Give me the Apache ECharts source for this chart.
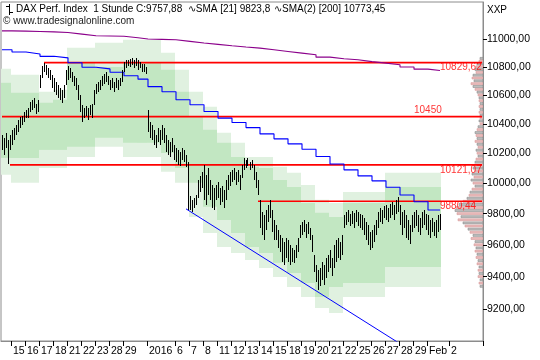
<!DOCTYPE html>
<html><head><meta charset="utf-8">
<script src="https://cdn.jsdelivr.net/npm/echarts@6/dist/echarts.min.js"></script>
<style>html,body{margin:0;padding:0;background:#fff}#c{width:540px;height:360px}</style>
</head><body><div id="c"></div>
<script>
// ---------- data ----------
const NCAT = 241;                 // hourly slots on the axis
const YMIN = 9008, YMAX = 11273;  // visible price range (log scale)
const yTicks = [9200, 9400, 9600, 9800, 10000, 10200, 10400, 10600, 10800, 11000];

const dayLabelIdx  = [5, 12, 19, 26, 33, 40, 47, 54, 61, 73, 87, 94, 101, 108, 115, 122, 129, 136, 143, 150, 157, 164, 171, 178, 185, 192, 199, 206, 213, 224];
const dayLabelText = ['15','16','17','18','21','22','23','28','29','2016','6','7','8','11','12','13','14','15','18','19','20','21','22','25','26','27','28','29','Feb','2'];

// first slot of each trading day (Dec 14 ... Feb 1), data end
const dayStart = [0, 5, 12, 19, 26, 33, 40, 47, 54, 61, 68, 73, 80, 87, 94, 101, 108, 115, 122, 129, 136, 143, 150, 157, 164, 171, 178, 185, 192, 199, 206, 213];
const dataEnd = 220;

const highs = [10325,10304,10338,10290,10325,10359,10373,10393,10428,10448,
10455,10483,10497,10511,10553,10567,10581,10539,10567,10743,
10806,10829,10814,10792,10779,10743,10722,10694,10673,10651,
10637,10673,10779,10806,10792,10765,10736,10722,10673,10602,
10532,10511,10525,10511,10532,10539,10637,10680,10694,10708,
10736,10751,10765,10736,10708,10722,10694,10722,10708,10722,
10779,10836,10850,10850,10857,10864,10850,10864,10850,10836,
10822,10822,10799,10497,10414,10393,10359,10325,10373,10359,
10393,10373,10325,10290,10277,10304,10256,10236,10222,10209,
10236,10222,10189,10142,9916,9890,9903,9922,10021,10048,
10075,10121,10055,10101,10021,9988,9968,9988,10008,9968,
9982,9955,10021,10055,10075,10088,10101,10075,10088,10055,
10121,10168,10155,10168,10142,10155,10121,10075,10021,9890,
9811,9792,9824,9857,9890,9824,9759,9727,9695,9663,
9643,9618,9643,9631,9599,9580,9567,9599,9643,9727,
9746,9759,9733,9746,9708,9663,9535,9472,9442,9454,
9491,9472,9516,9535,9567,9516,9599,9631,9643,9618,
9663,9792,9811,9824,9798,9818,9805,9824,9811,9798,
9792,9772,9746,9727,9682,9695,9727,9759,9811,9837,
9824,9851,9857,9837,9864,9877,9857,9890,9909,9857,
9811,9824,9792,9759,9727,9792,9811,9824,9792,9772,
9811,9824,9798,9792,9759,9772,9746,9759,9792,9798];

const lows = [10222,10189,10236,10128,10222,10256,10290,10325,10345,10373,
10393,10414,10441,10441,10483,10497,10511,10469,10483,10651,
10722,10765,10743,10722,10708,10651,10623,10602,10581,10567,
10546,10581,10673,10708,10722,10694,10666,10637,10567,10483,
10414,10441,10455,10428,10462,10441,10532,10609,10623,10637,
10666,10680,10694,10673,10637,10651,10623,10651,10637,10666,
10694,10765,10792,10806,10799,10814,10792,10806,10779,10792,
10765,10765,10751,10345,10304,10290,10256,10236,10277,10256,
10290,10270,10209,10189,10175,10209,10155,10142,10121,10115,
10155,10142,10108,9824,9824,9811,9837,9857,9903,9942,
9968,9890,9857,9922,9890,9837,9824,9890,9903,9857,
9877,9837,9890,9955,9982,10008,10021,9988,10008,9955,
10035,10088,10101,10115,10088,10101,10021,9968,9922,9708,
9663,9631,9695,9746,9772,9682,9631,9631,9580,9554,
9491,9472,9516,9491,9472,9491,9485,9516,9554,9643,
9663,9682,9643,9669,9631,9554,9429,9367,9317,9342,
9379,9348,9392,9429,9454,9404,9454,9491,9516,9504,
9535,9708,9727,9746,9720,9733,9708,9746,9720,9708,
9695,9663,9631,9599,9567,9580,9618,9663,9708,9746,
9733,9772,9759,9746,9772,9792,9759,9798,9811,9727,
9663,9708,9643,9631,9605,9682,9708,9720,9682,9663,
9708,9727,9695,9663,9643,9682,9656,9643,9682,9695];

// daily volatility bands
const outerTop = [10786,10743,10743,10623,10637,10937,10937,10973,10973,10995,10995,10995,10901,10779,10623,10518,10338,10270,10175,10175,10108,10068,9988,9890,9870,9942,9942,9942,10068,10068,10068,10068];
const innerTop = [10686,10616,10616,10546,10567,10829,10829,10799,10799,10829,10829,10829,10779,10623,10448,10359,10270,10175,10108,10101,10021,9975,9870,9805,9779,9870,9870,9870,9975,9975,9975,9975];
const innerBot = [10168,10168,10168,10222,10222,10243,10243,10304,10304,10270,10270,10270,10202,10101,10002,9844,9759,9676,9586,9548,9486,9422,9360,9274,9336,9360,9360,9360,9460,9460,9460,9460];
const outerBot = [10055,10002,10002,10101,10101,10175,10175,10243,10243,10175,10175,10175,10075,10002,9779,9676,9586,9548,9504,9454,9398,9336,9274,9207,9176,9274,9274,9274,9336,9336,9336,9336];

// daily SMAs
const sma21  = [10922,10906,10892,10875,10864,10829,10797,10785,10761,10736,10712,10659,10623,10567,10532,10485,10439,10409,10374,10331,10297,10263,10227,10178,10127,10088,10048,10015,9973,9922,9877,9824];
const sma200 = [11060,11058,11055,11052,11048,11036,11024,11022,11020,11010,11000,10998,10995,10983,10971,10961,10951,10942,10934,10922,10910,10898,10886,10869,10858,10850,10837,10826,10814,10798,10783,10773];

// horizontal levels
const levelValue = [10829.62, 10450, 10121.07, 9880.44];
const levelText  = ['10829,62', '10450', '10121,07', '9880,44'];
const levelStart = [21, 0, 4, 128];
const levelLabelIdx = [219, 206, 219, 219];
const levelLabelDy  = [5, -6, 5, 5];

// falling trend line (two anchor points)
const trendIdx = [92, 199];
const trendVal = [9831, 8992];

// volume profile (20-pt bins)
const profPrice = [10860,10840,10820,10800,10780,10760,10740,10720,10700,10680,10660,10640,10620,10600,10580,10560,10540,10520,10500,10480,10460,10440,10420,10400,10380,10360,10340,10320,10300,10280,10260,10240,10220,10200,10180,10160,10140,10120,10100,10080,10060,10040,10020,10000,9980,9960,9940,9920,9900,9880,9860,9840,9820,9800,9780,9760,9740,9720,9700,9680,9660,9640,9620,9600,9580,9560,9540,9520,9500,9480,9460,9440,9420,9400,9380,9360,9340];
const profVol   = [3,4,6,7,8,7,10,11,9,12,10,8,6,5,4,4,3,4,3,4,3,3,4,3,5,6,8,7,6,8,6,5,7,6,5,7,8,9,10,8,11,9,12,10,8,11,13,14,16,20,24,27,28,26,22,25,20,18,15,13,10,12,8,9,7,8,6,7,5,6,4,5,4,5,3,4,3];

// ---------- build ----------
const L = v => Math.log(v);
const categories = new Array(NCAT).fill('');
dayLabelIdx.forEach((k, j) => { categories[k] = dayLabelText[j]; });
const dayEnd = dayStart.map((s, i) => i + 1 < dayStart.length ? dayStart[i + 1] : dataEnd);

const fmtPrice = v => Math.round(Math.exp(v)).toFixed(2).replace('.', ',');
const FONT = 'Liberation Sans';

const stepData = arr => {
  const d = dayStart.map((s, i) => [s, L(arr[i])]);
  d.push([dataEnd - 1, L(arr[arr.length - 1])]);
  return d;
};

const series = [];

// bands
series.push({
  type: 'custom', z: 1, clip: true, silent: true,
  encode: { x: [0, 1], y: [2, 3, 4, 5] },
  data: dayStart.map((s, i) => [s, dayEnd[i], L(outerTop[i]), L(innerTop[i]), L(innerBot[i]), L(outerBot[i])]),
  renderItem: (params, api) => {
    const w = api.size([1, 0])[0];
    const x0 = api.coord([api.value(0), api.value(2)])[0] - w / 2;
    const x1 = api.coord([api.value(1), api.value(2)])[0] - w / 2;
    const yOT = api.coord([api.value(0), api.value(2)])[1];
    const yIT = api.coord([api.value(0), api.value(3)])[1];
    const yIB = api.coord([api.value(0), api.value(4)])[1];
    const yOB = api.coord([api.value(0), api.value(5)])[1];
    return { type: 'group', children: [
      { type: 'rect', shape: { x: x0, y: yOT, width: x1 - x0, height: yOB - yOT }, style: { fill: '#e0f1e0' } },
      { type: 'rect', shape: { x: x0, y: yIT, width: x1 - x0, height: yIB - yIT }, style: { fill: '#c2e7c2' } }
    ]};
  }
});

// volume profile
series.push({
  type: 'custom', z: 2, xAxisIndex: 1, yAxisIndex: 0, clip: true, silent: true,
  encode: { x: 1, y: 0 },
  data: profPrice.map((p, i) => [L(p), profVol[i]]),
  renderItem: (params, api) => {
    const a = api.coord([0, api.value(0)]);
    const b = api.coord([api.value(1), api.value(0)]);
    const pink = params.dataIndex % 2 === 1;
    return { type: 'rect', shape: { x: b[0], y: a[1] - 1, width: a[0] - b[0], height: 2 },
      style: { fill: pink ? '#e9baba' : '#bdbdbd', stroke: pink ? '#d79a9a' : '#8c8c8c', lineWidth: 0.6 } };
  }
});

// red levels
levelValue.forEach((v, k) => {
  series.push({
    type: 'line', z: 3, silent: true, showSymbol: false,
    data: [[levelStart[k], L(v)], [NCAT - 1, L(v)]],
    lineStyle: { color: '#ff0000', width: 1.6 }
  });
});
series.push({
  type: 'scatter', z: 6, silent: true, symbolSize: 0,
  data: levelValue.map((v, k) => ({
    value: [levelLabelIdx[k], L(v)],
    label: { show: true, formatter: levelText[k], position: 'right', distance: 0, offset: [0, levelLabelDy[k]],
      color: '#ff0000', fontSize: 10, fontFamily: FONT }
  }))
});

// SMA lines
series.push({ type: 'line', z: 4, step: 'end', showSymbol: false, silent: true, data: stepData(sma21), lineStyle: { color: '#0000ff', width: 1.1 } });
series.push({ type: 'line', z: 4, step: 'end', showSymbol: false, silent: true, data: stepData(sma200), lineStyle: { color: '#8b008b', width: 1.1 } });

// trend line
series.push({ type: 'line', z: 4, showSymbol: false, silent: true, data: trendIdx.map((x, i) => [x, L(trendVal[i])]), lineStyle: { color: '#0000ff', width: 1 } });

// price bars (high-low)
series.push({
  type: 'custom', z: 5, clip: true, silent: true,
  encode: { x: 0, y: [1, 2] },
  data: highs.map((h, i) => [i, L(h), L(lows[i])]),
  renderItem: (params, api) => {
    const p1 = api.coord([api.value(0), api.value(1)]);
    const p2 = api.coord([api.value(0), api.value(2)]);
    const y0 = Math.round(p1[1]), y1 = Math.round(p2[1]);
    return { type: 'rect', shape: { x: Math.floor(p1[0]), y: y0, width: 1, height: Math.max(1, y1 - y0) }, style: { fill: '#000' } };
  }
});

const tickVals = yTicks.map(L);
const richStyle = {
  k: { color: '#000', fontSize: 10, fontFamily: FONT },
  g: { color: '#00c800', fontSize: 10, fontFamily: FONT },
  b: { color: '#0000ff', fontSize: 10, fontFamily: FONT },
  p: { color: '#a020a0', fontSize: 10, fontFamily: FONT }
};
const option = {
  animation: false,
  backgroundColor: '#fff',
  grid: { left: 1, right: 57, top: 2, bottom: 19, show: true, borderColor: '#8c8c8c', borderWidth: 1, outerBoundsMode: 'none' },
  xAxis: [{
    type: 'category', data: categories, boundaryGap: true,
    axisLine: { show: true, lineStyle: { color: '#8c8c8c' } },
    axisTick: { show: true, length: 5, interval: (i, v) => v !== '', lineStyle: { color: '#000' } },
    axisLabel: { interval: (i, v) => v !== '', align: 'left', margin: 5, color: '#000', fontSize: 10.5, fontFamily: FONT, padding: [0, 0, 0, 1] },
    splitLine: { show: false }
  }, {
    type: 'value', min: 0, max: 482, inverse: true, show: false, position: 'top'
  }],
  yAxis: [{
    type: 'value', position: 'right', min: L(YMIN), max: L(YMAX), scale: true,
    axisLine: { show: true, lineStyle: { color: '#8c8c8c' } },
    axisTick: { show: true, length: 4, customValues: tickVals, lineStyle: { color: '#000' } },
    axisLabel: { customValues: tickVals, formatter: fmtPrice, color: '#000', fontSize: 10.5, fontFamily: FONT, margin: 4 },
    splitLine: { show: false }
  }],
  graphic: [
    { type: 'line', shape: { x1: 9.5, y1: 4, x2: 9.5, y2: 15 }, style: { stroke: '#000', lineWidth: 1 }, z: 100 },
    { type: 'line', shape: { x1: 6, y1: 6.5, x2: 9.5, y2: 6.5 }, style: { stroke: '#000', lineWidth: 1 }, z: 100 },
    { type: 'line', shape: { x1: 9.5, y1: 12.5, x2: 13, y2: 12.5 }, style: { stroke: '#000', lineWidth: 1 }, z: 100 },
    { type: 'text', x: 16, y: 4, z: 100, style: {
      text: '{k|DAX Perf. Index  1 Stunde }{g|C:9757,88}{k|  ∿SMA [21] }{b|9823,8}', rich: richStyle } },
    { type: 'text', x: 274, y: 4, z: 100, style: {
      text: '{k|∿SMA(2) [200] }{p|10773,45}', rich: richStyle } },
    { type: 'text', x: 487, y: 5, z: 100, style: { text: 'XXP', fill: '#000', font: '10px "Liberation Sans"' } },
    { type: 'text', x: 3, y: 16, z: 100, style: { text: '© www.tradesignalonline.com', fill: '#222', font: '10px "Liberation Sans"' } }
  ],
  series: series
};
const chart = echarts.init(document.getElementById('c'));
chart.setOption(option);
</script>
</body></html>
